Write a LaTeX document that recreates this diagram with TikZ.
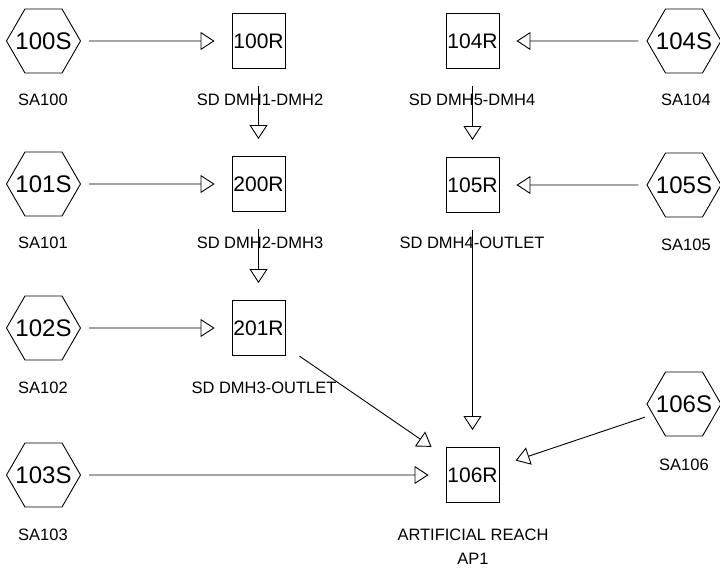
\documentclass[tikz,border=0pt]{standalone}
\usepackage{fontspec}
\setmainfont{Liberation Sans}
\usetikzlibrary{arrows.meta,shapes.geometric}
\newcommand\hx[1]{\makebox[0pt]{#1}}
\begin{document}
\begin{tikzpicture}[x=1pt,y=-1pt,
 hexa/.style={draw, line width=0.9pt, regular polygon, regular polygon sides=6, minimum size=74pt, inner sep=0pt, font=\fontsize{24}{28}\selectfont},
 reach/.style={draw, line width=0.9pt, minimum width=53pt, minimum height=55pt, inner sep=0pt, font=\fontsize{21}{24}\selectfont},
 lbl/.style={font=\fontsize{16.5}{24}\selectfont, inner sep=0pt, align=center},
 flow/.style={line width=0.9pt, -{Triangle[open,length=14pt,width=18pt]}},
 fromhex/.style={flow, shorten <=8pt, shorten >=17pt},
 frombox/.style={flow, shorten <=17pt, shorten >=17pt}]
\useasboundingbox (0,0) rectangle (720,569);

% subareas (hexagons)
\node[hexa] (s100) at (43.5,41) {\hx{100S}};
\node[hexa] (s101) at (43.5,184) {\hx{101S}};
\node[hexa] (s102) at (43.5,328) {\hx{102S}};
\node[hexa] (s103) at (43.5,475) {\hx{103S}};
\node[hexa] (s104) at (684,41) {\hx{104S}};
\node[hexa] (s105) at (684,185) {\hx{105S}};
\node[hexa] (s106) at (684,404) {\hx{106S}};

% reaches (boxes)
\node[reach] (r100) at (258.5,41) {100R};
\node[reach] (r200) at (258.5,184) {200R};
\node[reach] (r201) at (258.5,328) {201R};
\node[reach] (r104) at (472.5,41) {104R};
\node[reach] (r105) at (472.5,185) {105R};
\node[reach] (r106) at (472.5,475) {106R};

% labels
\node[lbl] (l100) at (43,100) {SA100};
\node[lbl] (l101) at (43,243) {SA101};
\node[lbl] (l102) at (43,388) {SA102};
\node[lbl] (l103) at (43,535) {SA103};
\node[lbl] (l104) at (686,100) {SA104};
\node[lbl] (l105) at (686,245) {SA105};
\node[lbl] (l106) at (684,465) {SA106};
\node[lbl] (lr100) at (260,100) {SD DMH1-DMH2};
\node[lbl] (lr200) at (260,243) {SD DMH2-DMH3};
\node[lbl] (lr201) at (264,388) {SD DMH3-OUTLET};
\node[lbl] (lr104) at (472,100) {SD DMH5-DMH4};
\node[lbl] (lr105) at (472,243) {SD DMH4-OUTLET};
\node[lbl] (lr106) at (473,546.5) {ARTIFICIAL REACH\\AP1};

% connectors
\draw[fromhex] (s100) -- (r100);
\draw[fromhex] (s101) -- (r200);
\draw[fromhex] (s102) -- (r201);
\draw[fromhex] (s103) -- (r106);
\draw[fromhex] (s104) -- (r104);
\draw[fromhex] (s105) -- (r105);
\draw[fromhex] (s106) -- (r106);
\draw[frombox] (r100) -- (r200);
\draw[frombox] (r200) -- (r201);
\draw[frombox] (r104) -- (r105);
\draw[frombox] (r105) -- (r106);
\draw[frombox] (r201) -- (r106);
\end{tikzpicture}
\end{document}
